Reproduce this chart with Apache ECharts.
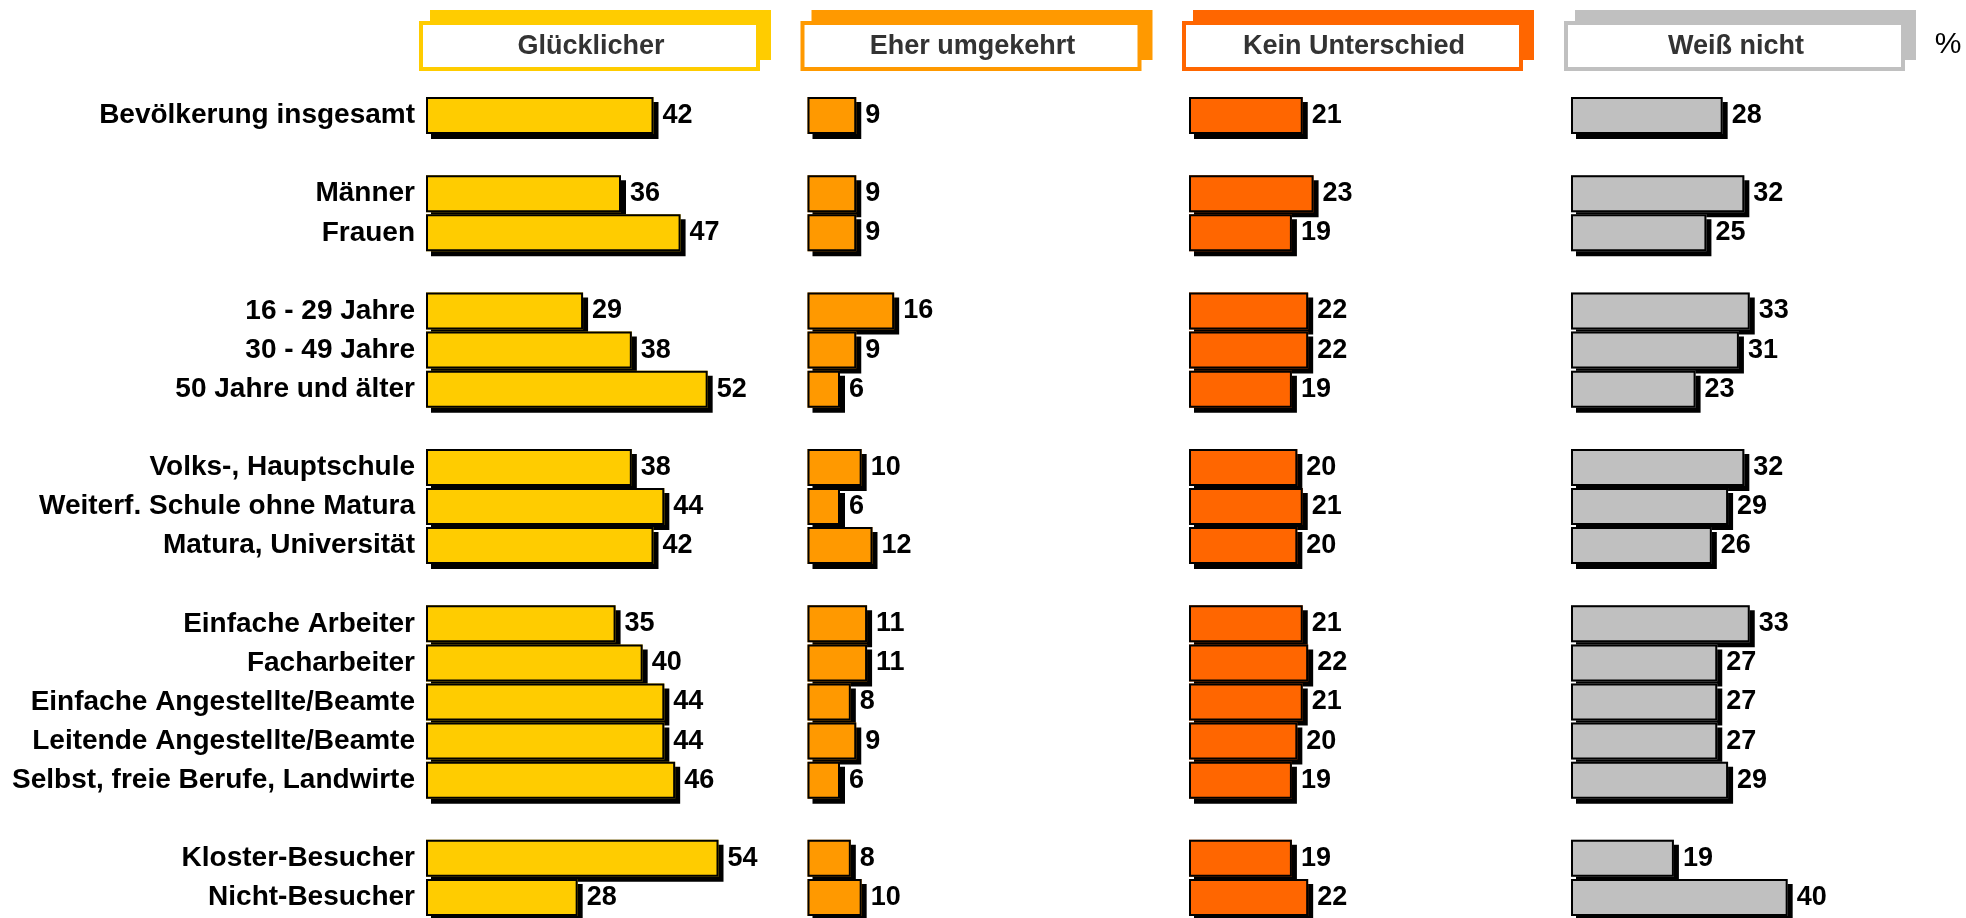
<!DOCTYPE html>
<html>
<head>
<meta charset="utf-8">
<title>Glücklicher</title>
<script src="https://cdn.jsdelivr.net/npm/echarts@6/dist/echarts.min.js"></script>
<style>
  html, body { margin: 0; padding: 0; background: #fff; }
  #chart { width: 1966px; height: 918px; }
</style>
</head>
<body>
<div id="chart"></div>
<script>
// Zeilen (leere Einträge = Abstand zwischen den Gruppen)
var categories = [
    'Bevölkerung insgesamt', '',
    'Männer', 'Frauen', '',
    '16 - 29 Jahre', '30 - 49 Jahre', '50 Jahre und älter', '',
    'Volks-, Hauptschule', 'Weiterf. Schule ohne Matura', 'Matura, Universität', '',
    'Einfache Arbeiter', 'Facharbeiter', 'Einfache Angestellte/Beamte',
    'Leitende Angestellte/Beamte', 'Selbst, freie Berufe, Landwirte', '',
    'Kloster-Besucher', 'Nicht-Besucher'
];

var seriesNames = ['Glücklicher', 'Eher umgekehrt', 'Kein Unterschied', 'Weiß nicht'];
var seriesColors = ['#FFCC00', '#FF9900', '#FF6600', '#C0C0C0'];

var gluecklicher  = [42, '-', 36, 47, '-', 29, 38, 52, '-', 38, 44, 42, '-', 35, 40, 44, 44, 46, '-', 54, 28];
var eherUmgekehrt = [ 9, '-',  9,  9, '-', 16,  9,  6, '-', 10,  6, 12, '-', 11, 11,  8,  9,  6, '-',  8, 10];
var keinUntersch  = [21, '-', 23, 19, '-', 22, 22, 19, '-', 20, 21, 20, '-', 21, 22, 21, 20, 19, '-', 19, 22];
var weissNicht    = [28, '-', 32, 25, '-', 33, 31, 23, '-', 32, 29, 26, '-', 33, 27, 27, 27, 29, '-', 19, 40];

var allValues = [gluecklicher, eherUmgekehrt, keinUntersch, weissNicht];

var fontFamily = '"Liberation Sans", Arial, Helvetica, sans-serif';
var panelLeft = [426, 807.5, 1189, 1571];
var xMax = 60;
var gridWidth = 325;

var grids = [], xAxes = [], yAxes = [], series = [], graphics = [];

for (var i = 0; i < 4; i++) {
    grids.push({
        left: panelLeft[i],
        top: 96,
        width: gridWidth,
        height: 821,
        containLabel: false
    });
    xAxes.push({
        type: 'value',
        gridIndex: i,
        min: 0,
        max: xMax,
        show: false
    });
    yAxes.push({
        type: 'category',
        gridIndex: i,
        inverse: true,
        data: categories,
        axisLine: { show: false },
        axisTick: { show: false },
        splitLine: { show: false },
        axisLabel: {
            show: i === 0,
            interval: 0,
            margin: 11,
            color: '#000',
            fontSize: 28,
            fontWeight: 'bold',
            fontFamily: fontFamily
        }
    });
    // Füllung mit schwarzem Schatten
    series.push({
        name: seriesNames[i],
        type: 'bar',
        xAxisIndex: i,
        yAxisIndex: i,
        data: allValues[i],
        barWidth: 37,
        barGap: '-100%',
        itemStyle: {
            color: seriesColors[i],
            shadowColor: '#000',
            shadowBlur: 0,
            shadowOffsetX: 5,
            shadowOffsetY: 5
        },
        label: {
            show: true,
            position: 'right',
            distance: 9,
            color: '#000',
            fontSize: 27,
            fontWeight: 'bold',
            fontFamily: fontFamily
        },
        emphasis: { disabled: true }
    });
    // schwarzer Rahmen darüber
    series.push({
        name: seriesNames[i] + ' Rahmen',
        type: 'bar',
        xAxisIndex: i,
        yAxisIndex: i,
        data: allValues[i],
        barWidth: 37,
        barGap: '-100%',
        silent: true,
        itemStyle: {
            color: 'rgba(0,0,0,0)',
            borderColor: '#000',
            borderWidth: 2
        },
        label: { show: false },
        emphasis: { disabled: true }
    });

    // Kopfzeilen-Kästchen
    var L = panelLeft[i];
    graphics.push({
        type: 'rect',
        shape: { x: L + 4, y: 10, width: 341, height: 50 },
        style: { fill: seriesColors[i] }
    });
    graphics.push({
        type: 'rect',
        shape: { x: L - 5, y: 23, width: 337, height: 46 },
        style: { fill: '#fff', stroke: seriesColors[i], lineWidth: 4 }
    });
    graphics.push({
        type: 'text',
        x: L + 165,
        y: 47,
        style: {
            text: seriesNames[i],
            fill: '#333',
            font: 'bold 27px ' + fontFamily,
            align: 'center',
            verticalAlign: 'middle'
        }
    });
}

graphics.push({
    type: 'text',
    x: 1948,
    y: 45,
    style: {
        text: '%',
        fill: '#000',
        font: '30px ' + fontFamily,
        align: 'center',
        verticalAlign: 'middle'
    }
});

var option = {
    animation: false,
    backgroundColor: '#fff',
    grid: grids,
    xAxis: xAxes,
    yAxis: yAxes,
    series: series,
    graphic: graphics
};

var myChart = echarts.init(document.getElementById('chart'));
myChart.setOption(option);
</script>
</body>
</html>
